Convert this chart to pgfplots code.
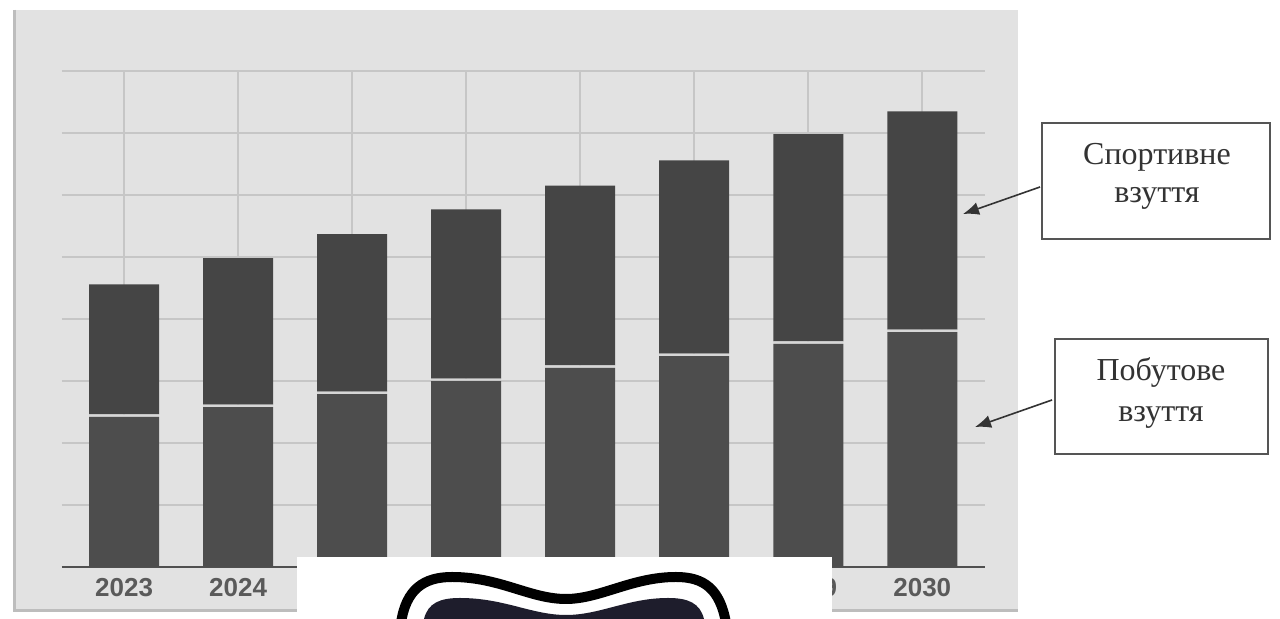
\documentclass[border=0pt]{standalone}
\usepackage{pgfplots}
\pgfplotsset{compat=1.18}
\usepackage{fontspec}
\setmainfont{Liberation Serif}
\newfontfamily\ticksans{Liberation Sans}
\usetikzlibrary{arrows.meta}
\definecolor{panel}{HTML}{E2E2E2}
\definecolor{paneledge}{HTML}{BDBDBD}
\definecolor{gridc}{HTML}{C6C6C6}
\definecolor{axisc}{HTML}{505050}
\definecolor{tickc}{HTML}{5A5A5A}
\definecolor{lowc}{HTML}{4D4D4D}
\definecolor{topc}{HTML}{454545}
\definecolor{sepc}{HTML}{D6D6D6}
\definecolor{boxc}{HTML}{555555}
\definecolor{textc}{HTML}{333333}
\definecolor{logoc}{HTML}{1E1D2C}
\begin{document}
\begin{tikzpicture}
\useasboundingbox (0,0) rectangle (640pt,309.5pt);
\fill[white] (0,0) rectangle (640pt,309.5pt);
\fill[panel] (6.5pt,3.5pt) rectangle (509pt,304.5pt);
\draw[paneledge, line width=1.5pt] (7pt,304.5pt) -- (7pt,4pt) -- (509pt,4pt);
\begin{axis}[
  at={(31pt,26pt)}, anchor=south west,
  scale only axis, width=461.5pt, height=248pt,
  xmin=-0.545, xmax=7.55, ymin=0, ymax=8,
  ybar stacked, bar width=35pt,
  xtick={0,1,2,3,4,5,6,7},
  xticklabels={2023,2024,2025,2026,2027,2028,2029,2030},
  ytick={0,1,2,3,4,5,6,7,8}, yticklabels={},
  ymajorgrids, xmajorgrids,
  grid style={gridc, line width=1pt},
  major tick length=0pt,
  axis line style={draw=none},
  extra y ticks={0}, extra y tick labels={},
  extra y tick style={grid style={axisc, line width=1pt}},
  xticklabel style={font=\ticksans\bfseries\fontsize{13}{13}\selectfont, text=tickc, anchor=center, yshift=-10.5pt},
  clip=false,
]
\addplot[fill=lowc, draw=none] coordinates {(0,2.42) (1,2.58) (2,2.79) (3,3.00) (4,3.21) (5,3.40) (6,3.60) (7,3.79)};
\addplot[fill=sepc, draw=none] coordinates {(0,0.04) (1,0.04) (2,0.04) (3,0.04) (4,0.04) (5,0.04) (6,0.04) (7,0.04)};
\addplot[fill=topc, draw=none] coordinates {(0,2.10) (1,2.36) (2,2.54) (3,2.73) (4,2.90) (5,3.12) (6,3.34) (7,3.52)};
\end{axis}
% annotation boxes
\draw[boxc, line width=0.75pt, fill=white] (521pt,190pt) rectangle (635pt,248pt);
\node[font=\fontsize{16}{19}\selectfont, text=textc, align=center] at (578.5pt,221.5pt) {Спортивне\\взуття};
\draw[boxc, line width=0.75pt, fill=white] (527.5pt,82.5pt) rectangle (634pt,140pt);
\node[font=\fontsize{16}{20.5}\selectfont, text=textc, align=center] at (580.5pt,113pt) {Побутове\\взуття};
\draw[textc, line width=0.8pt, -{Latex[length=8pt,width=6.5pt]}] (520pt,216pt) -- (481.5pt,202.5pt);
\draw[textc, line width=0.8pt, -{Latex[length=8pt,width=6.5pt]}] (526pt,109.5pt) -- (487.5pt,96pt);
% overlay
\fill[white] (148.5pt,0pt) rectangle (416pt,31pt);
\begin{scope}
\clip (148.5pt,0pt) rectangle (416pt,31pt);
\fill[logoc] (212pt,0pt) .. controls (214pt,8pt) and (220pt,10.5pt) .. (230pt,10.5pt) .. controls (252pt,10.5pt) and (266pt,2pt) .. (283pt,2pt) .. controls (300pt,2pt) and (314pt,10.5pt) .. (334pt,10.5pt) .. controls (344pt,10.5pt) and (350pt,8pt) .. (352pt,0pt) -- cycle;
\draw[black, line width=5pt] (200.5pt,-2pt) .. controls (203pt,15pt) and (212pt,21pt) .. (226pt,21pt) .. controls (250pt,21pt) and (265pt,10pt) .. (283pt,10pt) .. controls (300pt,10pt) and (316pt,21pt) .. (338pt,21pt) .. controls (352pt,21pt) and (360pt,15pt) .. (363pt,-2pt);
\end{scope}
\end{tikzpicture}
\end{document}
